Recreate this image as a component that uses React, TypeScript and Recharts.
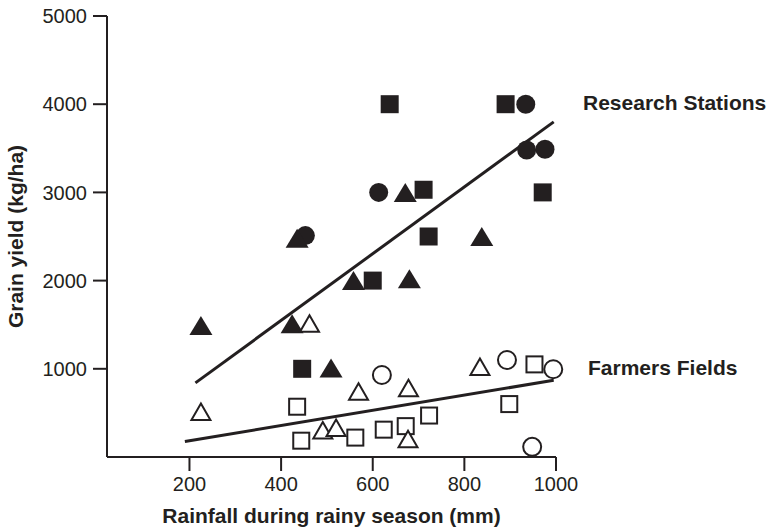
import React from 'react';
import { ScatterChart, Scatter, XAxis, YAxis, ReferenceLine, ReferenceDot } from 'recharts';

type Pt = [number, number];

// research stations: filled symbols
const stationSquares: Pt[] = [
  [637, 4000], [890, 4000], [971, 3000], [711, 3030], [722, 2500], [600, 2000], [446, 1000],
];
const stationCircles: Pt[] = [
  [934, 4000], [936, 3480], [976, 3490], [613, 3000], [453, 2510],
];
const stationTriangles: Pt[] = [
  [671, 3000], [838, 2500], [558, 2000], [680, 2020], [435, 2480], [225, 1490], [424, 1510], [509, 1010],
];

// farmers fields: open symbols
const farmSquares: Pt[] = [
  [435, 570], [444, 185], [562, 220], [624, 310], [672, 350], [723, 470], [953, 1050], [898, 600],
];
const farmCircles: Pt[] = [
  [620, 930], [893, 1100], [994, 995], [948, 115],
];
const farmTriangles: Pt[] = [
  [225, 510], [491, 300], [520, 330], [569, 740], [678, 780], [677, 200], [834, 1020], [462, 1510],
];

// fitted lines (end points)
const stationFit: Pt[] = [[213, 840], [995, 3800]];
const farmFit: Pt[] = [[190, 175], [995, 870]];

const xTicks = [200, 400, 600, 800, 1000];
const yTicks = [1000, 2000, 3000, 4000, 5000];

const INK = '#231f20';
const FONT = '"Liberation Sans", Arial, Helvetica, sans-serif';

const toXY = (pts: Pt[]) => pts.map(([x, y]) => ({ x, y }));
const seg = (pts: Pt[]) => pts.map(([x, y]) => ({ x, y }));

const marker = (kind: string, filled: boolean) => (props: any) => {
  const { cx, cy } = props;
  if (cx == null || cy == null) return <g />;
  if (filled) {
    if (kind === 'square') return <rect x={cx - 9} y={cy - 9} width={18} height={18} fill={INK} />;
    if (kind === 'circle') return <circle cx={cx} cy={cy} r={9.5} fill={INK} />;
    return <polygon points={`${cx - 11.5},${cy + 9.5} ${cx + 11.5},${cy + 9.5} ${cx},${cy - 9.5}`} fill={INK} />;
  }
  if (kind === 'square') return <rect x={cx - 8} y={cy - 8} width={16} height={16} fill="#fff" stroke={INK} strokeWidth={2} />;
  if (kind === 'circle') return <circle cx={cx} cy={cy} r={9} fill="#fff" stroke={INK} strokeWidth={2} />;
  return (
    <polygon
      points={`${cx - 9.5},${cy + 8} ${cx + 9.5},${cy + 8} ${cx},${cy - 8.5}`}
      fill="#fff" stroke={INK} strokeWidth={2}
    />
  );
};

const titleStyle = { fontWeight: 'bold', fontSize: 21, fill: INK, fontFamily: FONT };

export default function App() {
  return (
    <div style={{ position: 'absolute', left: 0, top: 0, background: '#fff' }}>
      <ScatterChart width={769} height={530} margin={{ top: 16, right: 213, bottom: 0, left: 0 }}>
        <XAxis
          type="number"
          dataKey="x"
          domain={[20, 1000]}
          ticks={xTicks}
          height={73}
          tickSize={14}
          tickMargin={6}
          axisLine={{ stroke: INK, strokeWidth: 2 }}
          tickLine={{ stroke: INK, strokeWidth: 2 }}
          tick={{ fill: INK, fontSize: 20, fontFamily: FONT }}
          label={{ value: 'Rainfall during rainy season (mm)', position: 'insideBottom', offset: 7, style: titleStyle }}
        />
        <YAxis
          type="number"
          dataKey="y"
          domain={[0, 5000]}
          ticks={yTicks}
          width={107}
          tickSize={14}
          tickMargin={6}
          axisLine={{ stroke: INK, strokeWidth: 2 }}
          tickLine={{ stroke: INK, strokeWidth: 2 }}
          tick={{ fill: INK, fontSize: 20, fontFamily: FONT }}
          label={{
            value: 'Grain yield (kg/ha)',
            angle: -90,
            position: 'insideLeft',
            offset: 16,
            style: { ...titleStyle, textAnchor: 'middle' },
          }}
        />
        <ReferenceLine segment={seg(stationFit)} stroke={INK} strokeWidth={3} />
        <ReferenceLine segment={seg(farmFit)} stroke={INK} strokeWidth={3} />
        <Scatter data={toXY(stationSquares)} shape={marker('square', true)} isAnimationActive={false} />
        <Scatter data={toXY(stationCircles)} shape={marker('circle', true)} isAnimationActive={false} />
        <Scatter data={toXY(stationTriangles)} shape={marker('triangle', true)} isAnimationActive={false} />
        <Scatter data={toXY(farmSquares)} shape={marker('square', false)} isAnimationActive={false} />
        <Scatter data={toXY(farmCircles)} shape={marker('circle', false)} isAnimationActive={false} />
        <Scatter data={toXY(farmTriangles)} shape={marker('triangle', false)} isAnimationActive={false} />
        <ReferenceDot
          x={1000}
          y={4020}
          r={0}
          fill="none"
          stroke="none"
          label={{ value: 'Research Stations', position: 'right', offset: 27, style: titleStyle }}
        />
        <ReferenceDot
          x={1000}
          y={1010}
          r={0}
          fill="none"
          stroke="none"
          label={{ value: 'Farmers Fields', position: 'right', offset: 32, style: titleStyle }}
        />
      </ScatterChart>
    </div>
  );
}
